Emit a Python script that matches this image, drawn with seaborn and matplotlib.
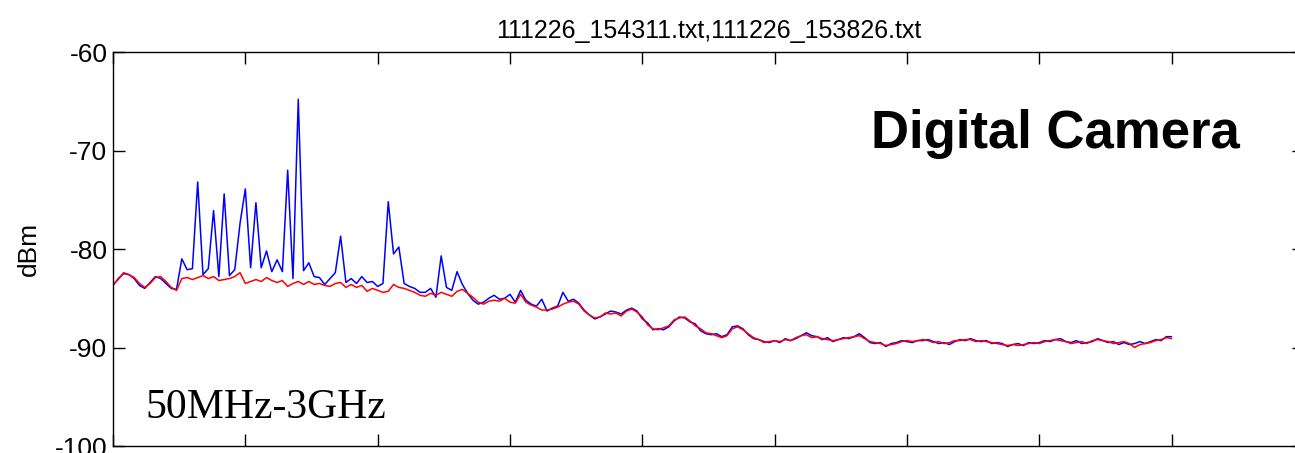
import numpy as np
import pandas as pd
import matplotlib
matplotlib.use("Agg")
import matplotlib.pyplot as plt
import seaborn as sns

# frequency index (sweep points), ticks every 100
freq = np.arange(0, 801, 4)

# measurement 111226_154311 (camera on) in dBm
blue_dbm = [
    -83.7, -83.0, -82.5, -82.6, -83.0, -83.7, -84.0, -83.4, -82.8, -83.0,
    -83.5, -84.0, -84.1, -81.0, -82.1, -82.0, -73.2, -82.6, -82.0, -76.1,
    -82.8, -74.4, -82.7, -82.1, -77.4, -73.9, -81.9, -75.3, -81.9, -80.2,
    -82.3, -81.1, -82.3, -72.0, -83.0, -64.8, -82.2, -81.4, -82.8, -82.9,
    -83.6, -83.0, -82.4, -78.7, -83.4, -83.0, -83.5, -82.8, -83.4, -83.3,
    -83.8, -83.5, -75.2, -80.5, -79.8, -83.5, -83.8, -84.0, -84.4, -84.4,
    -84.0, -84.9, -80.7, -83.9, -84.2, -82.3, -83.6, -84.5, -85.2, -85.6,
    -85.4, -85.0, -84.7, -85.1, -85.0, -84.6, -85.4, -84.2, -85.2, -85.6,
    -85.8, -85.1, -86.3, -86.0, -85.8, -84.4, -85.3, -85.1, -85.5, -86.2,
    -86.7, -87.1, -86.9, -86.6, -86.3, -86.4, -86.6, -86.2, -86.0, -86.3,
    -87.1, -87.5, -88.2, -88.1, -88.2, -87.9, -87.3, -86.9, -87.0, -87.4,
    -87.6, -88.3, -88.6, -88.7, -88.6, -88.9, -88.7, -87.9, -87.8, -88.1,
    -88.7, -89.1, -89.2, -89.4, -89.5, -89.3, -89.5, -89.1, -89.3, -89.1,
    -88.8, -88.5, -88.8, -88.9, -89.2, -89.0, -89.4, -89.2, -89.0, -89.1,
    -88.9, -88.6, -89.0, -89.5, -89.6, -89.5, -89.9, -89.6, -89.5, -89.3,
    -89.4, -89.5, -89.3, -89.3, -89.2, -89.4, -89.6, -89.5, -89.7, -89.4,
    -89.2, -89.3, -89.1, -89.3, -89.4, -89.3, -89.6, -89.5, -89.6, -89.9,
    -89.7, -89.6, -89.8, -89.5, -89.6, -89.5, -89.3, -89.4, -89.2, -89.1,
    -89.4, -89.5, -89.3, -89.6, -89.5, -89.4, -89.1, -89.3, -89.5, -89.4,
    -89.7, -89.5, -89.7, -89.6, -89.4, -89.6, -89.4, -89.2, -89.3, -88.9,
    -88.9,
]

# measurement 111226_153826 (background) in dBm
red_dbm = [
    -83.6, -83.1, -82.4, -82.6, -82.9, -83.5, -83.9, -83.5, -82.9, -82.8,
    -83.3, -83.9, -84.2, -83.0, -82.9, -83.1, -82.9, -82.7, -83.0, -82.8,
    -83.2, -83.1, -83.0, -82.8, -82.4, -83.5, -83.3, -83.1, -83.3, -82.9,
    -83.2, -83.4, -83.2, -83.8, -83.5, -83.3, -83.6, -83.3, -83.6, -83.5,
    -83.7, -83.8, -83.5, -83.4, -83.9, -83.6, -83.9, -83.7, -84.3, -84.0,
    -84.2, -84.4, -84.3, -83.6, -83.9, -84.0, -84.2, -84.4, -84.7, -84.8,
    -84.5, -84.7, -84.4, -84.6, -84.8, -84.3, -84.1, -84.5, -84.9, -85.4,
    -85.6, -85.3, -85.2, -85.3, -85.0, -85.4, -85.5, -84.6, -85.4, -85.7,
    -85.9, -86.2, -86.2, -86.1, -85.9, -85.6, -85.4, -85.3, -85.6, -86.3,
    -86.7, -87.0, -86.9, -86.5, -86.6, -86.5, -86.8, -86.3, -86.1, -86.4,
    -86.9, -87.7, -88.1, -88.2, -88.0, -87.8, -87.2, -87.0, -86.9, -87.3,
    -87.8, -88.1, -88.5, -88.6, -88.8, -89.0, -88.8, -88.1, -87.9, -88.2,
    -88.6, -89.0, -89.2, -89.5, -89.4, -89.3, -89.4, -89.2, -89.3, -89.0,
    -88.8, -88.7, -89.0, -88.9, -89.1, -89.2, -89.3, -89.2, -89.1, -89.0,
    -88.9, -88.8, -89.1, -89.4, -89.5, -89.6, -89.8, -89.7, -89.6, -89.4,
    -89.3, -89.4, -89.3, -89.2, -89.3, -89.5, -89.4, -89.6, -89.5, -89.3,
    -89.3, -89.2, -89.2, -89.4, -89.3, -89.4, -89.5, -89.6, -89.7, -89.8,
    -89.7, -89.8, -89.7, -89.6, -89.5, -89.6, -89.4, -89.3, -89.2, -89.3,
    -89.4, -89.6, -89.5, -89.4, -89.6, -89.3, -89.2, -89.3, -89.4, -89.6,
    -89.5, -89.4, -89.6, -90.0, -89.7, -89.6, -89.5, -89.3, -89.2, -89.0,
    -89.1,
]

y_ticks = [-100, -90, -80, -70, -60]
x_ticks = [0, 100, 200, 300, 400, 500, 600, 700, 800, 900]

df = pd.DataFrame({"freq": freq, "blue": blue_dbm, "red": red_dbm})

sns.set_style("ticks")
plt.rcParams["font.family"] = ["Liberation Sans", "DejaVu Sans"]
plt.rcParams["text.color"] = "black"
plt.rcParams["axes.labelcolor"] = "black"
plt.rcParams["xtick.color"] = "black"
plt.rcParams["ytick.color"] = "black"

fig = plt.figure(figsize=(12.95, 4.53), dpi=100)
# axes runs past the right edge of the picture (cropped MATLAB figure)
ax = fig.add_axes([113 / 1295, 7 / 453, 1191 / 1295, 394 / 453])

sns.lineplot(data=df, x="freq", y="blue", color="#0000ff", linewidth=1.1, ax=ax)
sns.lineplot(data=df, x="freq", y="red", color="#ff0000", linewidth=1.1, ax=ax)

ax.set_xlim(0, 900)
ax.set_ylim(-100, -60)
ax.set_xticks(x_ticks)
ax.set_xticklabels([])
ax.set_yticks(y_ticks)
ax.set_yticklabels([str(v) for v in y_ticks])
ax.tick_params(direction="in", length=8.5, width=1.0, color="black",
               labelcolor="black", top=True, right=True, labelsize=19, pad=4)
for s in ax.spines.values():
    s.set_visible(True)
    s.set_color("black")
    s.set_linewidth(1.0)

ax.set_xlabel("")
ax.set_ylabel("dBm", fontsize=19, labelpad=10, color="black")
ax.set_title("111226_154311.txt,111226_153826.txt", fontsize=18, pad=10,
             color="black")

ax.text(0.946, 0.756, "Digital Camera", transform=ax.transAxes,
        ha="right", va="baseline", fontsize=38, fontweight="bold", color="black")
ax.text(0.027, 0.071, "50MHz-3GHz", transform=ax.transAxes,
        ha="left", va="baseline", fontsize=30, family="Liberation Serif",
        color="black")

fig.savefig("out.png", dpi=100)
